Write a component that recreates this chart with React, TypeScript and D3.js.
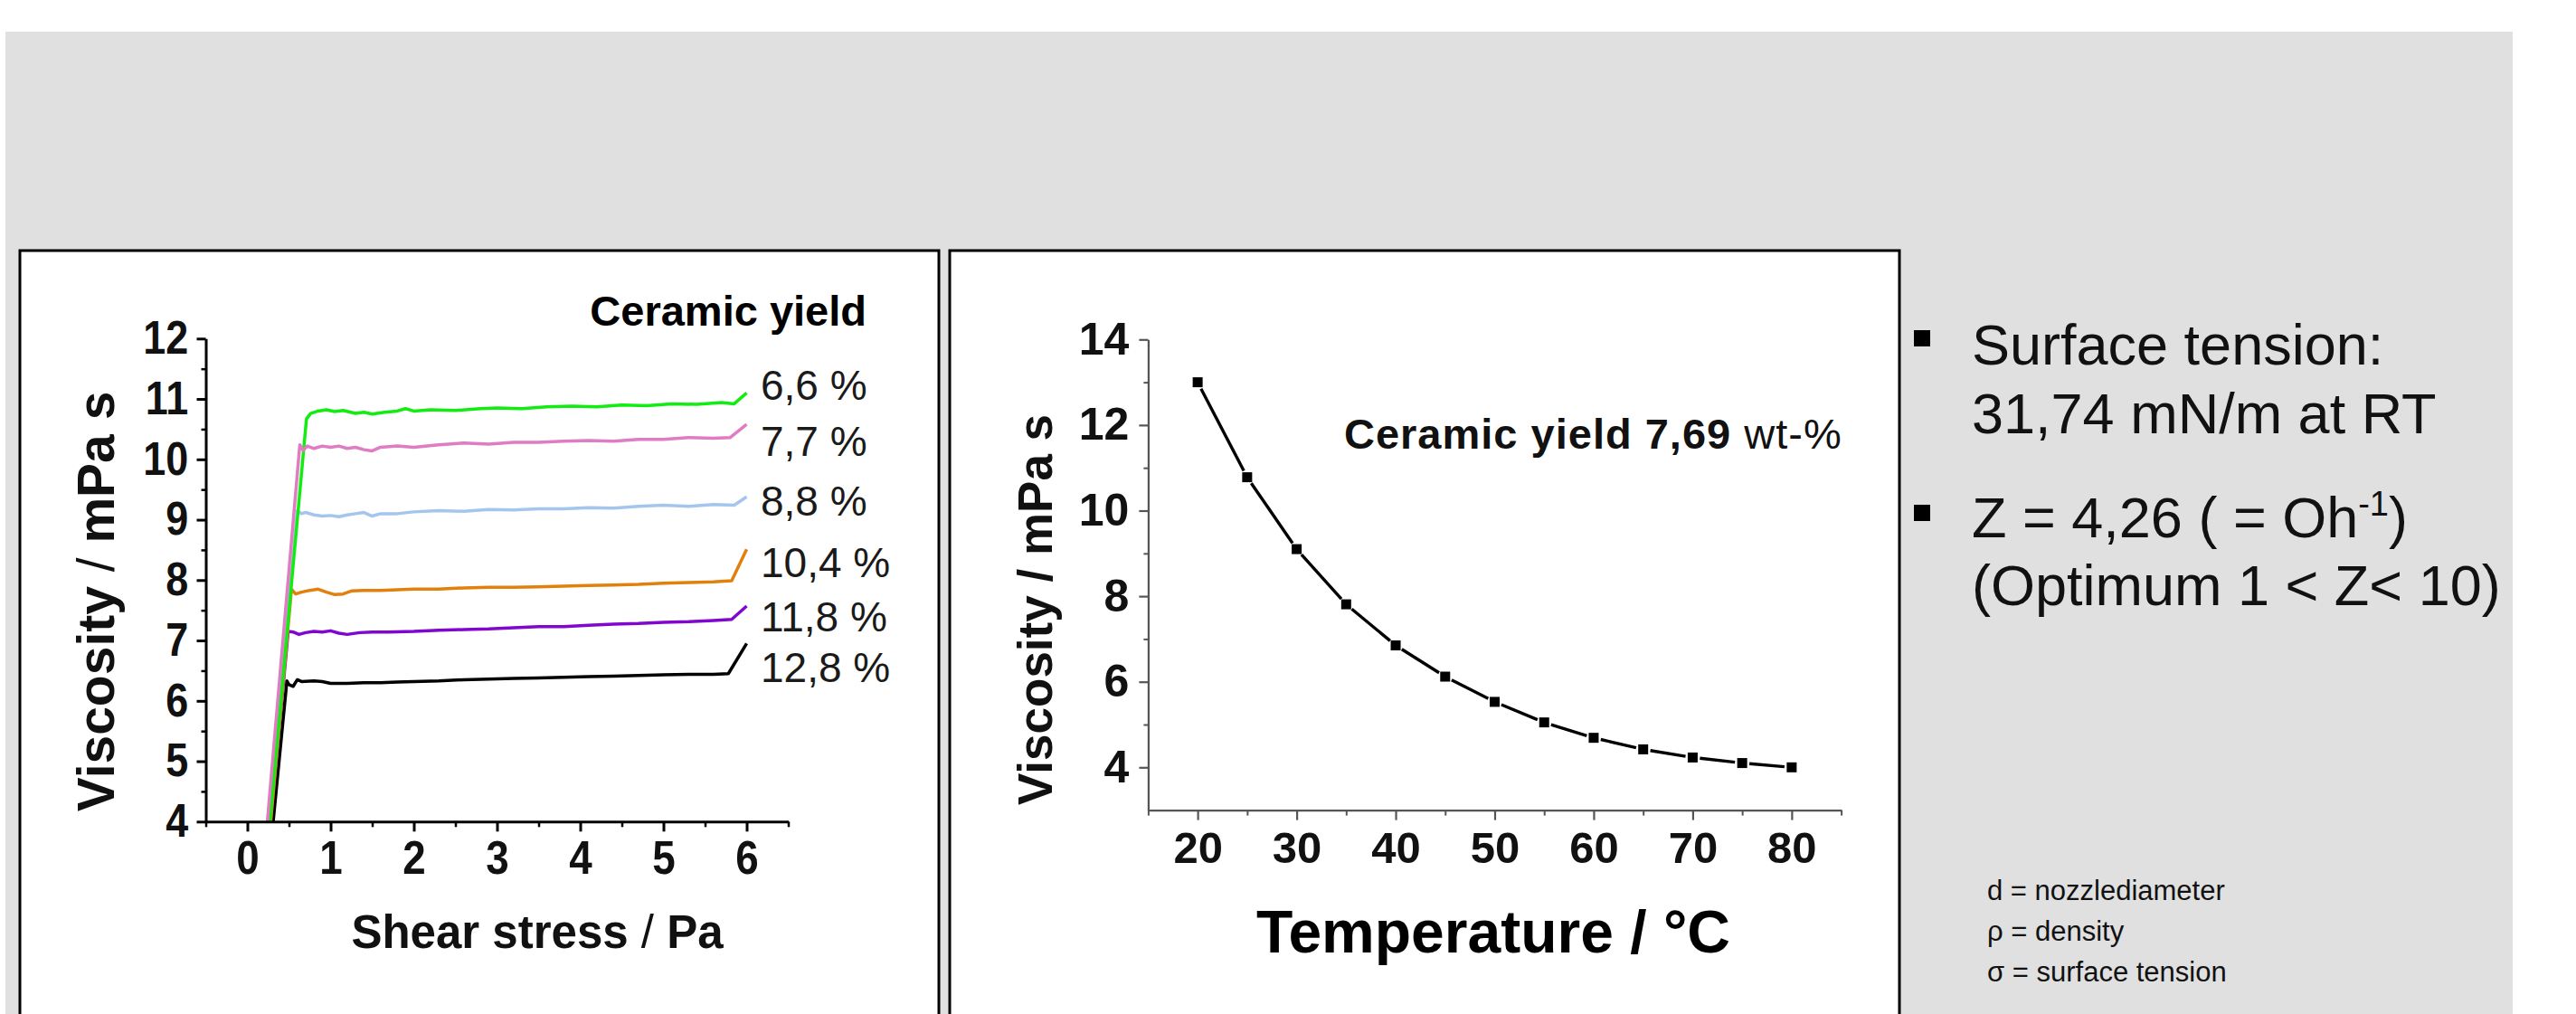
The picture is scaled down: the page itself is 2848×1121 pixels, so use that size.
import React, { useEffect, useRef } from 'react';
import * as d3 from 'd3';

const W = 2848;
const H = 1121;
const FONT = '"Liberation Sans", Arial, Helvetica, sans-serif';

// left chart: viscosity over shear stress, one curve per ceramic yield
const yieldLabels = ['6,6 %', '7,7 %', '8,8 %', '10,4 %', '11,8 %', '12,8 %'];
const yieldColors = ['#12ec12', '#e07cc2', '#a4c6ee', '#e2800e', '#8006d0', '#000000'];

const yield66 = [[0.27, 4.0], [0.71, 10.67], [0.76, 10.76], [0.85, 10.8], [0.95, 10.82], [1.05, 10.79], [1.15, 10.81], [1.3, 10.76], [1.4, 10.78], [1.5, 10.75], [1.65, 10.78], [1.8, 10.8], [1.9, 10.84], [2.0, 10.8], [2.2, 10.82], [2.5, 10.81], [2.8, 10.84], [3.0, 10.85], [3.3, 10.84], [3.6, 10.87], [3.9, 10.88], [4.2, 10.87], [4.5, 10.9], [4.8, 10.89], [5.1, 10.92], [5.4, 10.91], [5.7, 10.94], [5.85, 10.92], [6.0, 11.1]];
const yield77 = [[0.24, 4.0], [0.63, 10.24], [0.67, 10.15], [0.72, 10.22], [0.8, 10.18], [0.9, 10.22], [1.0, 10.2], [1.1, 10.22], [1.2, 10.18], [1.3, 10.2], [1.4, 10.16], [1.5, 10.14], [1.6, 10.2], [1.8, 10.22], [2.0, 10.2], [2.3, 10.24], [2.6, 10.27], [2.9, 10.25], [3.2, 10.28], [3.5, 10.28], [3.8, 10.3], [4.1, 10.31], [4.4, 10.3], [4.7, 10.33], [5.0, 10.33], [5.3, 10.36], [5.6, 10.35], [5.8, 10.36], [6.0, 10.58]];
const yield88 = [[0.26, 4.0], [0.6, 9.15], [0.65, 9.1], [0.7, 9.12], [0.8, 9.08], [0.9, 9.06], [1.0, 9.07], [1.1, 9.05], [1.2, 9.08], [1.3, 9.1], [1.4, 9.12], [1.5, 9.06], [1.6, 9.1], [1.8, 9.1], [2.0, 9.13], [2.3, 9.15], [2.6, 9.14], [2.9, 9.17], [3.2, 9.16], [3.5, 9.18], [3.8, 9.18], [4.1, 9.2], [4.4, 9.19], [4.7, 9.22], [5.0, 9.24], [5.3, 9.22], [5.6, 9.25], [5.85, 9.24], [6.0, 9.38]];
const yield104 = [[0.28, 4.0], [0.53, 7.85], [0.58, 7.77], [0.65, 7.8], [0.75, 7.83], [0.85, 7.85], [0.95, 7.8], [1.05, 7.76], [1.15, 7.77], [1.25, 7.82], [1.4, 7.83], [1.6, 7.83], [1.8, 7.84], [2.0, 7.85], [2.3, 7.85], [2.6, 7.87], [2.9, 7.88], [3.2, 7.88], [3.5, 7.89], [3.8, 7.9], [4.1, 7.91], [4.4, 7.92], [4.7, 7.93], [5.0, 7.95], [5.3, 7.96], [5.6, 7.97], [5.82, 7.99], [6.0, 8.51]];
const yield118 = [[0.28, 4.0], [0.49, 7.15], [0.55, 7.14], [0.62, 7.1], [0.7, 7.13], [0.8, 7.15], [0.9, 7.14], [1.0, 7.16], [1.1, 7.12], [1.2, 7.1], [1.35, 7.13], [1.5, 7.14], [1.7, 7.14], [2.0, 7.15], [2.3, 7.17], [2.6, 7.18], [2.9, 7.19], [3.2, 7.21], [3.5, 7.23], [3.8, 7.23], [4.1, 7.25], [4.4, 7.27], [4.7, 7.28], [5.0, 7.3], [5.3, 7.31], [5.6, 7.33], [5.82, 7.35], [6.0, 7.57]];
const yield128 = [[0.31, 4.0], [0.475, 6.33], [0.5, 6.27], [0.55, 6.24], [0.6, 6.35], [0.65, 6.32], [0.8, 6.33], [0.9, 6.32], [1.0, 6.29], [1.2, 6.29], [1.4, 6.3], [1.6, 6.3], [1.8, 6.31], [2.0, 6.32], [2.3, 6.33], [2.6, 6.35], [2.9, 6.36], [3.2, 6.37], [3.5, 6.38], [3.8, 6.39], [4.1, 6.4], [4.4, 6.41], [4.7, 6.42], [5.0, 6.43], [5.3, 6.44], [5.6, 6.44], [5.78, 6.45], [6.0, 6.95]];
const yieldSeries = [yield66, yield77, yield88, yield104, yield118, yield128];

const shearTicks = [0, 1, 2, 3, 4, 5, 6];
const shearMinor = [-0.5, 0.5, 1.5, 2.5, 3.5, 4.5, 5.5, 6.5];
const viscTicksLeft = [4, 5, 6, 7, 8, 9, 10, 11, 12];
const viscMinorLeft = [4.5, 5.5, 6.5, 7.5, 8.5, 9.5, 10.5, 11.5];

// right chart: viscosity over temperature
const temperature = [20, 25, 30, 35, 40, 45, 50, 55, 60, 65, 70, 75, 80];
const viscosityT = [13.0, 10.78, 9.1, 7.81, 6.85, 6.12, 5.53, 5.05, 4.69, 4.42, 4.23, 4.1, 4.0];
const tempTicks = [20, 30, 40, 50, 60, 70, 80];
const tempMinor = [15, 25, 35, 45, 55, 65, 75, 85];
const viscTicksRight = [4, 6, 8, 10, 12, 14];
const viscMinorRight = [5, 7, 9, 11, 13];

// squeeze = horizontal scale of tick labels (the original uses a narrow bold face)
function styleAxis(g, color, width, fontSize, squeeze = 1) {
  g.selectAll('path').attr('stroke', color).attr('stroke-width', width);
  g.selectAll('line').attr('stroke', color).attr('stroke-width', width);
  g.selectAll('text')
    .attr('fill', '#111')
    .attr('font-family', FONT)
    .attr('font-weight', 'bold')
    .attr('font-size', fontSize)
    .attr('transform', squeeze !== 1 ? `scale(${squeeze},1)` : null);
}

function drawLeft(svg) {
  const x = d3.scaleLinear().domain([-0.5, 6.5]).range([227.5, 871.5]);
  const y = d3.scaleLinear().domain([4, 12]).range([908.3, 374.3]);
  const g = svg.append('g');
  const fmt = d3.format('d');

  // curves, drawn so the pink rise sits on top like in the original
  const line = d3.line().x((d) => x(d[0])).y((d) => y(d[1]));
  const order = [5, 4, 3, 2, 0, 1];
  order.forEach((i) => {
    g.append('path')
      .attr('d', line(yieldSeries[i]))
      .attr('fill', 'none')
      .attr('stroke', yieldColors[i])
      .attr('stroke-width', 3.5)
      .attr('stroke-linejoin', 'round');
  });

  const yMinor = g.append('g').attr('transform', `translate(${x(-0.5)},0)`)
    .call(d3.axisLeft(y).tickValues(viscMinorLeft).tickSize(5).tickFormat(() => ''));
  yMinor.select('.domain').remove();
  styleAxis(yMinor, '#000', 2.5, 51);
  const yAx = g.append('g').attr('transform', `translate(${x(-0.5)},0)`)
    .call(d3.axisLeft(y).tickValues(viscTicksLeft).tickSize(10).tickSizeOuter(0).tickPadding(12).tickFormat(fmt));
  styleAxis(yAx, '#000', 3, 51, 0.88);

  const xMinor = g.append('g').attr('transform', `translate(0,${y(4)})`)
    .call(d3.axisBottom(x).tickValues(shearMinor).tickSize(6).tickFormat(() => ''));
  xMinor.select('.domain').remove();
  styleAxis(xMinor, '#000', 2.5, 51);
  const xAx = g.append('g').attr('transform', `translate(0,${y(4)})`)
    .call(d3.axisBottom(x).tickValues(shearTicks).tickSize(11).tickSizeOuter(0).tickPadding(10).tickFormat(fmt));
  styleAxis(xAx, '#000', 3, 52, 0.88);

  // axis titles
  const yt = g.append('text')
    .attr('transform', 'translate(126,665) rotate(-90)')
    .attr('text-anchor', 'middle')
    .attr('font-family', FONT).attr('font-size', 57).attr('font-weight', 'bold').attr('fill', '#111');
  yt.append('tspan').text('Viscosity ');
  yt.append('tspan').attr('font-weight', 'normal').text('/');
  yt.append('tspan').text(' mPa s');

  const xt = g.append('text')
    .attr('x', 594).attr('y', 1048)
    .attr('text-anchor', 'middle')
    .attr('font-family', FONT).attr('font-size', 51).attr('font-weight', 'bold').attr('fill', '#111');
  xt.append('tspan').text('Shear stress ');
  xt.append('tspan').attr('font-weight', 'normal').text('/');
  xt.append('tspan').text(' Pa');

  g.append('text')
    .attr('x', 958).attr('y', 360)
    .attr('text-anchor', 'end')
    .attr('font-family', FONT).attr('font-size', 47).attr('font-weight', 'bold').attr('fill', '#000')
    .text('Ceramic yield');

  const labelBaselines = [442, 504, 570, 638, 698, 754];
  yieldLabels.forEach((t, i) => {
    g.append('text')
      .attr('x', 841).attr('y', labelBaselines[i])
      .attr('font-family', FONT).attr('font-size', 46).attr('fill', '#1a1a1a')
      .text(t);
  });
}

function drawRight(svg) {
  const x = d3.scaleLinear().domain([15, 85]).range([1269.4, 2035.6]);
  const y = d3.scaleLinear().domain([3, 14]).range([895.6, 375.3]);
  const g = svg.append('g');
  const axisColor = '#555';

  const yMinor = g.append('g').attr('transform', `translate(${x(15)},0)`)
    .call(d3.axisLeft(y).tickValues(viscMinorRight).tickSize(5).tickFormat(() => ''));
  yMinor.select('.domain').remove();
  styleAxis(yMinor, axisColor, 2, 50);
  const yAx = g.append('g').attr('transform', `translate(${x(15)},0)`)
    .call(d3.axisLeft(y).tickValues(viscTicksRight).tickSize(10).tickSizeOuter(0).tickPadding(11));
  styleAxis(yAx, axisColor, 2.2, 50);

  const xMinor = g.append('g').attr('transform', `translate(0,${y(3)})`)
    .call(d3.axisBottom(x).tickValues(tempMinor).tickSize(6).tickFormat(() => ''));
  xMinor.select('.domain').remove();
  styleAxis(xMinor, axisColor, 2, 49);
  const xAx = g.append('g').attr('transform', `translate(0,${y(3)})`)
    .call(d3.axisBottom(x).tickValues(tempTicks).tickSize(11).tickSizeOuter(0).tickPadding(13));
  styleAxis(xAx, axisColor, 2.2, 49);

  // line segments stop a little short of each marker
  const pts = temperature.map((t, i) => [x(t), y(viscosityT[i])]);
  const gap = 8;
  for (let i = 0; i < pts.length - 1; i++) {
    const [x1, y1] = pts[i];
    const [x2, y2] = pts[i + 1];
    const len = Math.hypot(x2 - x1, y2 - y1);
    const ux = (x2 - x1) / len;
    const uy = (y2 - y1) / len;
    g.append('line')
      .attr('x1', x1 + ux * gap).attr('y1', y1 + uy * gap)
      .attr('x2', x2 - ux * gap).attr('y2', y2 - uy * gap)
      .attr('stroke', '#000').attr('stroke-width', 3.4);
  }
  g.selectAll('rect.marker')
    .data(pts)
    .enter()
    .append('rect')
    .attr('class', 'marker')
    .attr('x', (d) => d[0] - 5.5)
    .attr('y', (d) => d[1] - 5.5)
    .attr('width', 11).attr('height', 11)
    .attr('fill', '#000');

  g.append('text')
    .attr('transform', 'translate(1163,674) rotate(-90)')
    .attr('text-anchor', 'middle')
    .attr('font-family', FONT).attr('font-size', 53).attr('font-weight', 'bold').attr('fill', '#111')
    .text('Viscosity / mPa s');

  g.append('text')
    .attr('x', 1651).attr('y', 1053)
    .attr('text-anchor', 'middle')
    .attr('font-family', FONT).attr('font-size', 66).attr('font-weight', 'bold').attr('fill', '#000')
    .text('Temperature / °C');

  const ann = g.append('text')
    .attr('x', 1486).attr('y', 496)
    .attr('font-family', FONT).attr('font-size', 47).attr('font-weight', 'bold').attr('fill', '#111')
    .attr('letter-spacing', 1);
  ann.append('tspan').text('Ceramic yield 7,69 ');
  ann.append('tspan').attr('font-weight', 'normal').text('wt-%');
}

function drawNotes(svg) {
  const g = svg.append('g').attr('font-family', FONT).attr('fill', '#111');

  g.append('rect').attr('x', 2116).attr('y', 365).attr('width', 18).attr('height', 18).attr('fill', '#000');
  g.append('rect').attr('x', 2116).attr('y', 558).attr('width', 18).attr('height', 18).attr('fill', '#000');

  g.append('text').attr('x', 2180).attr('y', 403).attr('font-size', 63).text('Surface tension:');
  g.append('text').attr('x', 2180).attr('y', 479).attr('font-size', 63).text('31,74 mN/m at RT');

  const z = g.append('text').attr('x', 2180).attr('y', 594).attr('font-size', 63);
  z.append('tspan').text('Z = 4,26 ( = Oh');
  z.append('tspan').attr('font-size', 38).attr('dy', -24).text('-1');
  z.append('tspan').attr('dy', 24).text(')');
  g.append('text').attr('x', 2180).attr('y', 669).attr('font-size', 63).text('(Optimum 1 < Z< 10)');

  const notes = ['d = nozzlediameter', 'ρ = density', 'σ = surface tension'];
  notes.forEach((t, i) => {
    g.append('text')
      .attr('x', 2197).attr('y', 995 + i * 45)
      .attr('font-size', 31)
      .text(t);
  });
}

export default function App() {
  const ref = useRef(null);

  useEffect(() => {
    document.body.style.margin = '0';
    const svg = d3.select(ref.current);
    svg.selectAll('*').remove();

    svg.append('rect').attr('width', W).attr('height', H).attr('fill', '#fff');
    svg.append('rect').attr('x', 6).attr('y', 35).attr('width', 2772).attr('height', H - 35).attr('fill', '#e0e0e0');

    // the two white chart panels
    svg.append('rect').attr('x', 22).attr('y', 277).attr('width', 1016).attr('height', 900)
      .attr('fill', '#fff').attr('stroke', '#000').attr('stroke-width', 3);
    svg.append('rect').attr('x', 1050).attr('y', 277).attr('width', 1050).attr('height', 900)
      .attr('fill', '#fff').attr('stroke', '#000').attr('stroke-width', 3);

    drawLeft(svg);
    drawRight(svg);
    drawNotes(svg);
  }, []);

  return (
    <div style={{ position: 'absolute', left: 0, top: 0 }}>
      <svg ref={ref} width={W} height={H} style={{ display: 'block' }} />
    </div>
  );
}
